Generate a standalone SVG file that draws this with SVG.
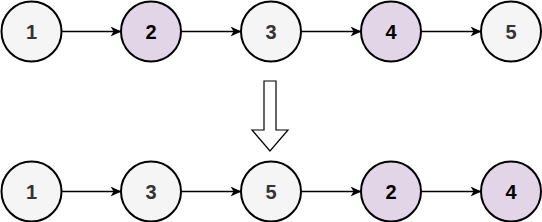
<svg xmlns="http://www.w3.org/2000/svg" width="542" height="222" viewBox="0 0 542 222">
<defs>
<style>
.g{fill:#f5f5f5;stroke:#000;stroke-width:2}
.p{fill:#e1d5e7;stroke:#000;stroke-width:2}
.t{font-family:"Liberation Sans",Arial,sans-serif;font-size:20px;font-weight:bold;text-anchor:middle;dominant-baseline:central}
.tg{fill:#333}
.tp{fill:#000}
.e{stroke:#000;stroke-width:1.5;fill:none;marker-end:url(#a)}
</style>
<marker id="a" viewBox="0 0 11 10" refX="10.5" refY="5" markerWidth="11" markerHeight="10" markerUnits="userSpaceOnUse" orient="auto">
<path d="M0,0 L11,5 L0,10 L3,5 Z" fill="#000"/>
</marker>
</defs>
<g id="connectors">
<line class="e" x1="62" y1="31.5" x2="121" y2="31.5"/>
<line class="e" x1="182" y1="31.5" x2="241" y2="31.5"/>
<line class="e" x1="302" y1="31.5" x2="361" y2="31.5"/>
<line class="e" x1="422" y1="31.5" x2="481" y2="31.5"/>
<line class="e" x1="62" y1="191.5" x2="121" y2="191.5"/>
<line class="e" x1="182" y1="191.5" x2="241" y2="191.5"/>
<line class="e" x1="302" y1="191.5" x2="361" y2="191.5"/>
<line class="e" x1="422" y1="191.5" x2="481" y2="191.5"/>
<path id="bigarrow" d="M264,81 L276,81 L276,130 L288,130 L270,151 L252,130 L264,130 Z" fill="#fff" stroke="#000" stroke-width="1.2"/>
</g>
<g id="t1"><circle class="g" cx="31.5" cy="31.5" r="30"/><text class="t tg" x="31.5" y="31.5">1</text></g>
<g id="t2"><circle class="p" cx="151" cy="31.5" r="30"/><text class="t tp" x="151" y="31.5">2</text></g>
<g id="t3"><circle class="g" cx="271" cy="31.5" r="30"/><text class="t tg" x="271" y="31.5">3</text></g>
<g id="t4"><circle class="p" cx="391" cy="31.5" r="30"/><text class="t tp" x="391" y="31.5">4</text></g>
<g id="t5"><circle class="g" cx="511" cy="31.5" r="30"/><text class="t tg" x="511" y="31.5">5</text></g>
<g id="b1"><circle class="g" cx="31.5" cy="191.5" r="30"/><text class="t tg" x="31.5" y="191.5">1</text></g>
<g id="b3"><circle class="g" cx="151" cy="191.5" r="30"/><text class="t tg" x="151" y="191.5">3</text></g>
<g id="b5"><circle class="g" cx="271" cy="191.5" r="30"/><text class="t tg" x="271" y="191.5">5</text></g>
<g id="b2"><circle class="p" cx="391" cy="191.5" r="30"/><text class="t tp" x="391" y="191.5">2</text></g>
<g id="b4"><circle class="p" cx="511" cy="191.5" r="30"/><text class="t tp" x="511" y="191.5">4</text></g>
</svg>
